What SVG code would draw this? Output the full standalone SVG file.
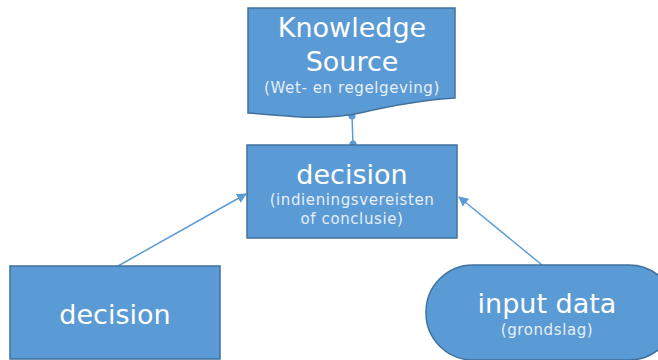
<svg xmlns="http://www.w3.org/2000/svg" width="658" height="360" viewBox="0 0 658 360">
<defs>
<style>
.n{fill:#5B9BD5;stroke:#41719C;stroke-width:1.5}
.t{fill:#fff;font-family:"DejaVu Sans",Verdana,sans-serif;text-anchor:middle}
.big{font-size:27px}
.sm{font-size:15px;letter-spacing:0.6px;fill:#E6EEF8}
.c{stroke:#5B9BD5;stroke-width:1.5;fill:none}
</style>
<marker id="ah" viewBox="0 0 10 10" refX="9" refY="5" markerWidth="10" markerHeight="10" orient="auto" markerUnits="userSpaceOnUse"><path d="M0,0 L10,5 L0,10 z" fill="#5B9BD5"/></marker>
</defs>
<rect width="658" height="360" fill="#fff"/>
<g id="connectors">
<line class="c" x1="352" y1="115" x2="353" y2="145"/>
<circle cx="352" cy="116" r="3.5" fill="#5B9BD5"/>
<circle cx="353" cy="144" r="3.5" fill="#5B9BD5"/>
<line class="c" x1="118" y1="266" x2="246" y2="194" marker-end="url(#ah)"/>
<line class="c" x1="542" y1="265" x2="459" y2="197" marker-end="url(#ah)"/>
</g>
<g id="knowledge-source">
<path class="n" d="M248,8 H455 V98 C420,100 390,106 360,113 C320,121 290,116 248,113 Z"/>
<text class="t big" x="352" y="37">Knowledge</text>
<text class="t big" x="352" y="71">Source</text>
<text class="t sm" x="352" y="93">(Wet- en regelgeving)</text>
</g>
<g id="decision-main">
<rect class="n" x="247" y="145" width="210" height="93"/>
<text class="t big" x="352" y="184">decision</text>
<text class="t sm" x="352" y="205">(indieningsvereisten</text>
<text class="t sm" x="352" y="224">of conclusie)</text>
</g>
<g id="decision-input">
<rect class="n" x="10" y="266" width="210" height="93"/>
<text class="t big" x="115" y="324">decision</text>
</g>
<g id="input-data">
<rect class="n" x="426" y="265" width="250" height="95" rx="47" ry="47"/>
<text class="t big" x="547" y="313">input data</text>
<text class="t sm" x="547" y="335">(grondslag)</text>
</g>
</svg>
